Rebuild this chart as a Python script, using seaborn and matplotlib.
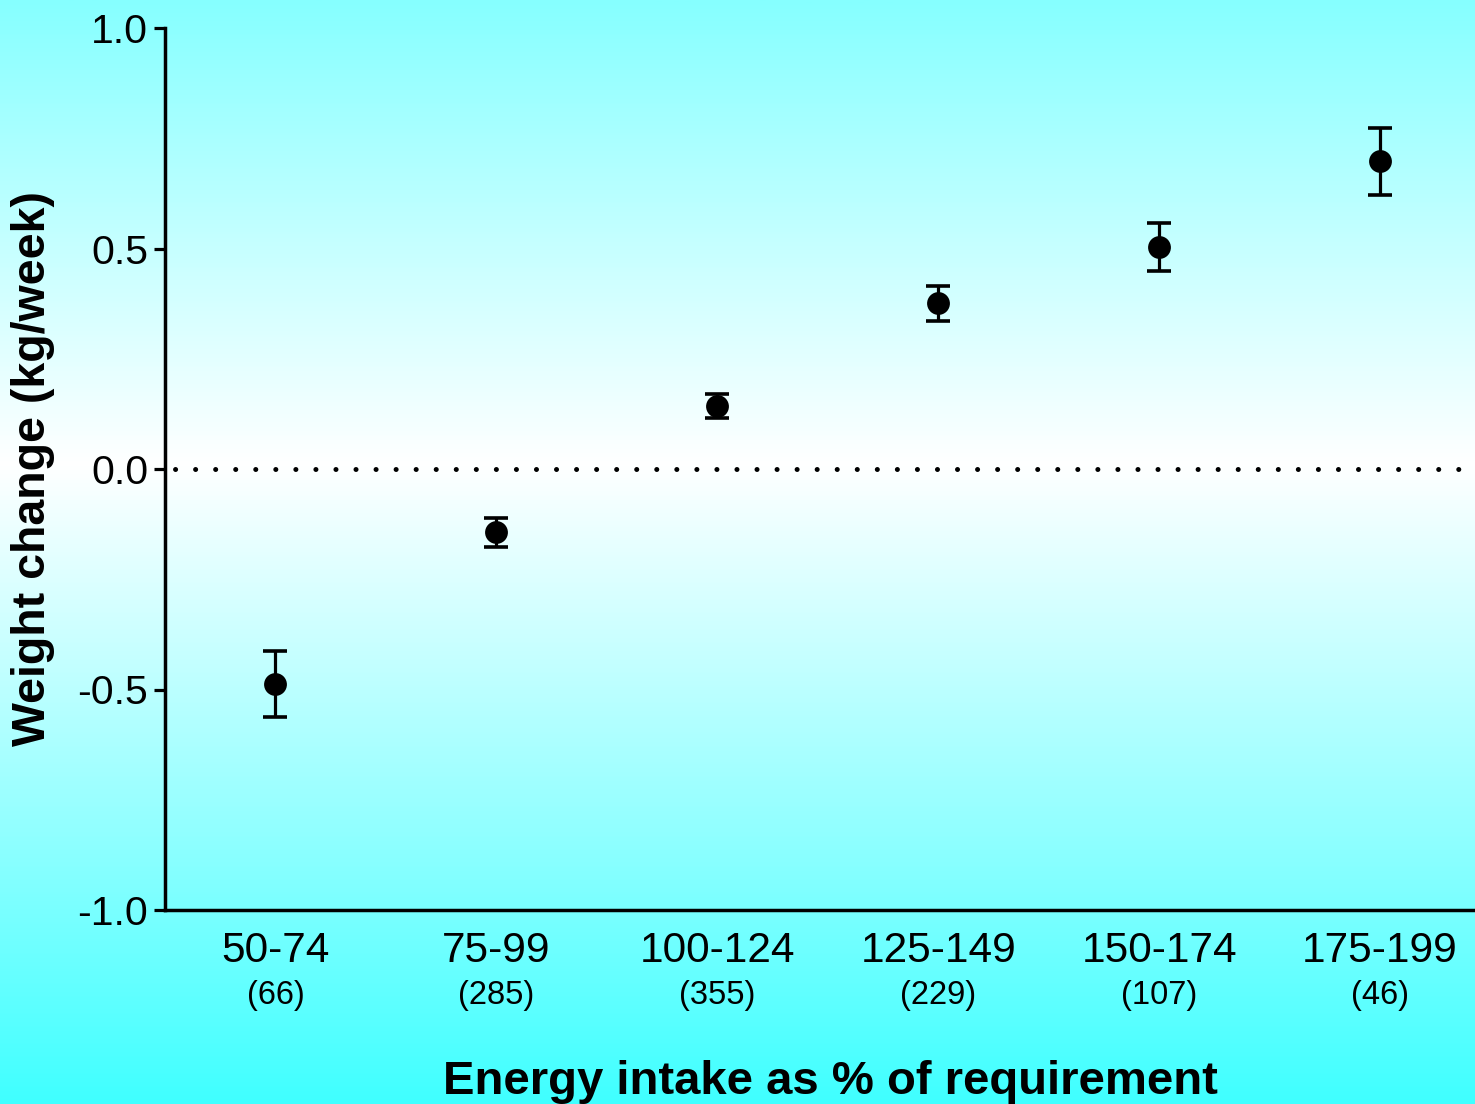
import matplotlib
matplotlib.use('Agg')

import numpy as np
import seaborn as sns
import matplotlib.pyplot as plt
from matplotlib.colors import LinearSegmentedColormap

# === Data ===
categories = ['50-74', '75-99', '100-124', '125-149', '150-174', '175-199']
counts = ['(66)', '(285)', '(355)', '(229)', '(107)', '(46)']
weight_change = [-0.488, -0.143, 0.143, 0.376, 0.503, 0.698]
sem = [0.075, 0.033, 0.028, 0.040, 0.055, 0.076]

sns.set_theme(style='ticks')
plt.rcParams['font.family'] = ['Liberation Sans', 'DejaVu Sans']

W, H = 1475, 1104
fig = plt.figure(figsize=(W / 100, H / 100), dpi=100)

# === Gradient background (cyan - white - cyan) ===
bg = fig.add_axes([0, 0, 1, 1], zorder=-10)
cmap = LinearSegmentedColormap.from_list(
    'bg', [(0.0, '#86ffff'), (0.42, '#ffffff'), (1.0, '#40ffff')])
grad = np.linspace(0, 1, 512).reshape(-1, 1)
bg.imshow(grad, aspect='auto', cmap=cmap, extent=[0, 1, 1, 0])
bg.axis('off')

# === Main axes ===
ax = fig.add_axes([165 / W, 1 - 910 / H, 1 - 165 / W, (910 - 28) / H])
ax.set_facecolor('none')

x = np.arange(len(categories))
ax.errorbar(x, weight_change, yerr=sem, fmt='none', ecolor='black',
            elinewidth=2.3, capsize=8.5, capthick=2.6, zorder=2)
sns.scatterplot(x=x, y=weight_change, ax=ax, color='black', s=270,
                edgecolor='black', linewidth=0, zorder=3, legend=False)

ax.axhline(0, color='black', linewidth=3.6, linestyle=(2, (0.01, 4.0)),
           dash_capstyle='round', zorder=1)

ax.set_xlim(-0.5, 5.43)
ax.set_ylim(-1.0, 1.0)
ax.set_yticks([-1.0, -0.5, 0.0, 0.5, 1.0])
ax.set_yticklabels(['-1.0', '-0.5', '0.0', '0.5', '1.0'])
ax.set_xticks(x)
ax.set_xticklabels(categories)

ax.tick_params(axis='y', length=8, width=2.3, color='black', labelsize=29.5,
               labelcolor='black', pad=4, direction='out')
ax.tick_params(axis='x', length=0, labelsize=30.5, labelcolor='black', pad=15)

for side in ['top', 'right']:
    ax.spines[side].set_visible(False)
for side in ['left', 'bottom']:
    ax.spines[side].set_color('black')
    ax.spines[side].set_linewidth(2.5)

# sample size under each category
for xi, c in zip(x, counts):
    ax.text(xi, -0.097, c, transform=ax.get_xaxis_transform(),
            ha='center', va='center', fontsize=23.5, color='black')

ax.set_xlabel('')
ax.set_ylabel('')
fig.text(830 / W, 1 - 1082 / H, 'Energy intake as % of requirement',
         ha='center', va='center', fontsize=34, fontweight='bold', color='black')
fig.text(33 / W, 1 - 468 / H, 'Weight change (kg/week)', rotation=90,
         ha='center', va='center', fontsize=33.5, fontweight='bold', color='black')

fig.savefig('out.png', dpi=100)
